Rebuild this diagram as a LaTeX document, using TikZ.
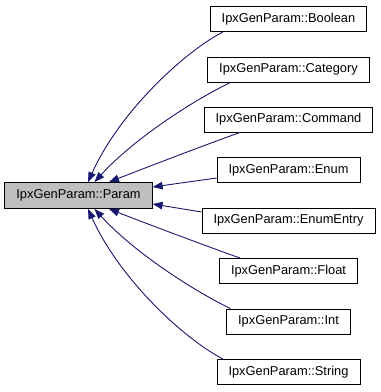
\documentclass[tikz,border=0pt]{standalone}
\usepackage{fontspec}
\setmainfont{Liberation Sans}
\usetikzlibrary{arrows.meta}
\definecolor{edgeblue}{HTML}{191970}
\definecolor{basefill}{HTML}{BFBFBF}
\tikzset{
  cls/.style={draw=black, line width=0.9pt, fill=white, inner xsep=11.5pt,
    minimum height=25pt, font=\fontsize{12.85}{15}\selectfont},
  baseclass/.style={cls, fill=basefill, minimum height=26pt},
  inherit/.style={draw=edgeblue, line width=0.9pt,
    -{Triangle[length=10pt, width=7.5pt, fill=edgeblue]}}
}
\begin{document}
\begin{tikzpicture}[x=1pt, y=1pt]
  \useasboundingbox (0,0) rectangle (381,392);
  % base class on the left
  \node[baseclass] (param) at (78.5,196.5) {IpxGenParam::Param};
  % derived classes stacked on the right
  \node[cls] (boolean)   at (288.5,373)   {IpxGenParam::Boolean};
  \node[cls] (category)  at (288.5,322.5) {IpxGenParam::Category};
  \node[cls] (command)   at (288.5,272.5) {IpxGenParam::Command};
  \node[cls] (enum)      at (288.5,222)   {IpxGenParam::Enum};
  \node[cls] (enumentry) at (288.5,171.5) {IpxGenParam::EnumEntry};
  \node[cls] (float)     at (288.5,121)   {IpxGenParam::Float};
  \node[cls] (int)       at (288.5,70.5)  {IpxGenParam::Int};
  \node[cls] (string)    at (288.5,20)    {IpxGenParam::String};
  % inheritance arrows pointing at the base class
  \draw[inherit] ([xshift=-65.5pt]boolean.south)
    .. controls +(-38,-19.5) and +(32,71) .. ([xshift=9.5pt]param.north);
  \draw[inherit] ([xshift=-58pt]category.south)
    .. controls +(-35.5,-17) and +(40,44) .. ([xshift=16pt]param.north);
  \draw[inherit] ([xshift=-48.5pt]command.south)
    .. controls +(-35,-12.5) and +(41,16) .. ([xshift=30.5pt]param.north);
  \draw[inherit] ([yshift=-8pt]enum.west) -- ([yshift=8.5pt]param.east);
  \draw[inherit] ([yshift=8.5pt]enumentry.west) -- ([yshift=-8.5pt]param.east);
  \draw[inherit] ([xshift=-48.5pt]float.north)
    .. controls +(-35,12.5) and +(41,-16) .. ([xshift=30.5pt]param.south);
  \draw[inherit] ([xshift=-58pt]int.north)
    .. controls +(-35.5,17) and +(40,-44) .. ([xshift=16pt]param.south);
  \draw[inherit] ([xshift=-65.5pt]string.north)
    .. controls +(-38,19.5) and +(32,-71) .. ([xshift=9.5pt]param.south);
\end{tikzpicture}
\end{document}
